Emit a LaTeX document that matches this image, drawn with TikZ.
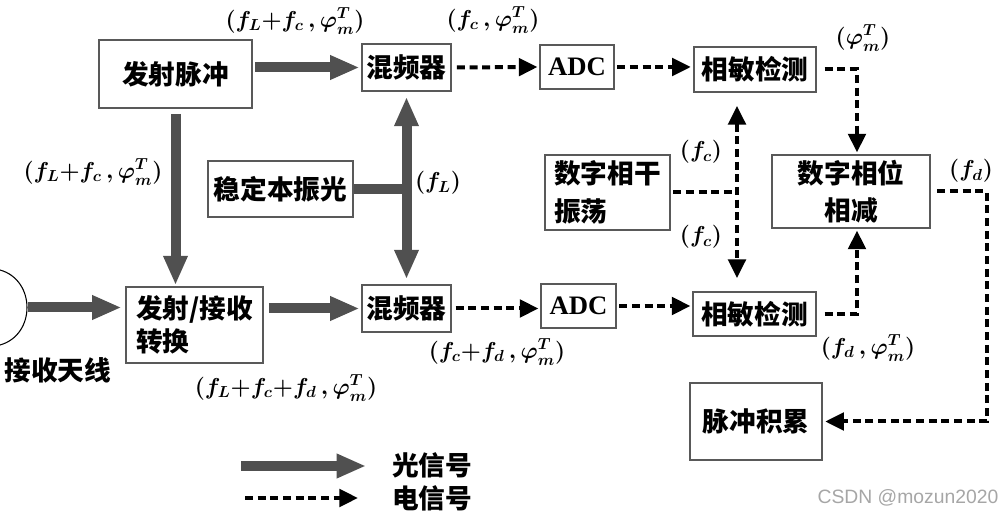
\documentclass[tikz,border=0pt]{standalone}
\usepackage{fontspec}
\setmainfont{Noto Sans CJK SC}
\newfontfamily\adcfont{Liberation Serif}
\newfontfamily\wmfont{Liberation Sans}
\usetikzlibrary{arrows.meta}
\definecolor{optgray}{RGB}{80,80,80}
\begin{document}
\begin{tikzpicture}[x=0.75pt,y=-0.75pt,
  box/.style 2 args={draw=black!65, line width=0.8pt, minimum width=#1*0.75pt, minimum height=#2*0.75pt, inner sep=0pt, align=center, font=\fontsize{20}{28}\selectfont\bfseries},
  cjk/.style={inner sep=0pt, font=\fontsize{20}{24}\selectfont\bfseries},
  lbl/.style={inner sep=0pt, font=\fontsize{17}{20}\selectfont\boldmath},
  optic/.style={draw=optgray, line width=7.5pt, -{Triangle[length=22pt,width=17pt]}},
  optic2/.style={draw=optgray, line width=7.5pt, {Triangle[length=22pt,width=17pt]}-{Triangle[length=22pt,width=17pt]}},
  elec/.style={draw=black, line width=3pt, dash pattern=on 6pt off 3.5pt, -{Triangle[length=14pt,width=13pt]}},
  elec2/.style={draw=black, line width=3pt, dash pattern=on 6pt off 3.5pt, {Triangle[length=14pt,width=13pt]}-{Triangle[length=14pt,width=13pt]}},
  elecline/.style={draw=black, line width=3pt, dash pattern=on 6pt off 3.5pt},
  adcbox/.style={font=\adcfont\fontsize{20}{24}\selectfont\bfseries}
]
\useasboundingbox (0,0) rectangle (1000,516);

% boxes
\node[box={153}{68}] (tx) at (175.5,74) {发射脉冲};
\node[box={89}{47}] (mix1) at (406.5,67.5) {混频器};
\node[box={74}{44}, adcbox] (adc1) at (577,67) {ADC};
\node[box={122}{45}] (psd1) at (755,69.5) {相敏检测};
\node[box={145}{56}] (lo) at (280.5,189) {稳定本振光};
\node[box={125}{75}, align=left] (dco) at (607.5,192.5) {数字相干\\振荡};
\node[box={158}{73}] (sub) at (851,191.5) {数字相位\\相减};
\node[box={137}{76}, align=left, font=\fontsize{20}{25}\selectfont\bfseries] (trx) at (194.5,325) {发射/接收\\转换};
\node[box={89}{47}] (mix2) at (406.5,308.5) {混频器};
\node[box={75}{44}, adcbox] (adc2) at (578.5,306) {ADC};
\node[box={123}{44}] (psd2) at (754.5,314) {相敏检测};
\node[box={132}{77}] (acc) at (756,421.5) {脉冲积累};

% antenna
\draw[line width=0.8pt] (0,270) .. controls (36,280) and (36,335) .. (0,345);
\coordinate (ant) at (28,307.5);
\node[cjk] (antl) at (58,370) {接收天线};

% optical arrows
\draw[optic, shorten <=2pt, shorten >=1.5pt] (tx.east |- mix1.west) -- (mix1.west);
\draw[optic, shorten <=4pt, shorten >=1pt] (tx.south) -- (tx.south |- trx.north);
\draw[draw=optgray, line width=7.5pt] (lo.east) -- (lo.east -| mix1.south);
\draw[optic2, shorten <=4pt, shorten >=4pt] (mix1.south) -- (mix2.north);
\draw[optic, shorten >=3pt] (ant) -- (ant -| trx.west);
\draw[optic, shorten <=4pt, shorten >=1.5pt] (mix2.west -| trx.east) -- (mix2.west);

% electrical arrows
\coordinate (vx) at (737,0);
\draw[elec, shorten <=4pt, shorten >=1.5pt] (mix1.east) -- (adc1.west);
\draw[elec, shorten <=2pt, shorten >=2pt] (adc1.east) -- (adc1.east -| psd1.west);
\draw[elec, shorten <=6pt, shorten >=1.5pt] (psd1.east) -| ([xshift=4.5pt]sub.north);
\draw[elec, shorten <=6pt, shorten >=1.5pt] (psd2.east) -| ([xshift=4.5pt]sub.south);
\draw[elec, shorten <=5pt, shorten >=2pt] (sub.east) -- ++(56,0) |- (acc.east);
\draw[elecline, shorten <=2pt] (dco.east) -- (dco.east -| vx);
\draw[elec2, shorten <=10pt, shorten >=10pt] (vx |- psd1.south) -- (vx |- psd2.north);
\draw[elec, shorten <=3pt, shorten >=1.5pt] (mix2.east) -- (mix2.east -| adc2.west);
\draw[elec, shorten <=2pt, shorten >=1.5pt] (adc2.east) -- (adc2.east -| psd2.west);

% labels
\node[lbl] (l1) at (295,21) {$(f_L{+}f_c\,,\varphi_m^T)$};
\node[lbl] (l2) at (493,20) {$(f_c\,,\varphi_m^T)$};
\node[lbl] (l3) at (863,38) {$(\varphi_m^T)$};
\node[lbl] (l4) at (93,172) {$(f_L{+}f_c\,,\varphi_m^T)$};
\node[lbl] (l5) at (438,183) {$(f_L)$};
\node[lbl] (l6) at (701,152) {$(f_c)$};
\node[lbl] (l7) at (701,237) {$(f_c)$};
\node[lbl] (l8) at (971,171) {$(f_d)$};
\node[lbl] (l9) at (497,352) {$(f_c{+}f_d\,,\varphi_m^T)$};
\node[lbl] (l10) at (286,388) {$(f_L{+}f_c{+}f_d\,,\varphi_m^T)$};
\node[lbl] (l11) at (868,348) {$(f_d\,,\varphi_m^T)$};

% legend
\coordinate (lg1s) at (241,466);
\coordinate (lg1e) at (366,466);
\coordinate (lg2s) at (245,498);
\coordinate (lg2e) at (358,498);
\draw[optic] (lg1s) -- (lg1e);
\draw[elec] (lg2s) -- (lg2e);
\node[cjk] (lt1) at (432,465) {光信号};
\node[cjk] (lt2) at (432,498) {电信号};

% watermark
\node[inner sep=0pt, text=black!35, font=\wmfont\fontsize{14.5}{16}\selectfont] (wm) at (908,498) {CSDN @mozun2020};
\end{tikzpicture}
\end{document}
